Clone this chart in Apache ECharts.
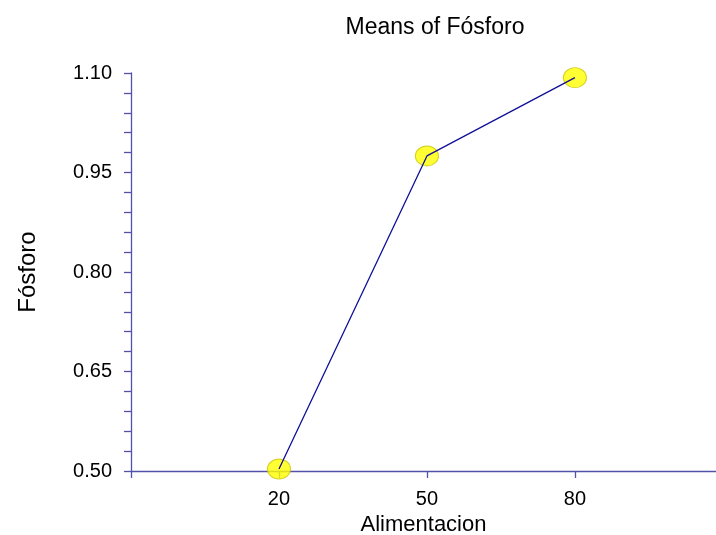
<!DOCTYPE html>
<html>
<head>
<meta charset="utf-8">
<script src="https://cdn.jsdelivr.net/npm/echarts@6/dist/echarts.min.js"></script>
<style>
  html, body { margin: 0; padding: 0; background: #fff; }
  #chart { width: 716px; height: 535px; }
</style>
</head>
<body>
<div id="chart"></div>
<script>
// Group means of Fósforo by Alimentacion level
const levels = [20, 50, 80];
const means = [0.503, 0.975, 1.093];

// Axis ticks
const yLabelTicks = [0.50, 0.65, 0.80, 0.95, 1.10];
const yMinorStep = 0.03;
const xLabelTicks = [20, 50, 80];

const yTicks = [];
for (let i = 0; i <= 20; i++) yTicks.push(+(0.5 + i * yMinorStep).toFixed(2));

const FONT = '"Liberation Sans", Arial, sans-serif';
const AXIS_COLOR = '#5252aa';

const points = levels.map((l, i) => [l, means[i]]);

const chart = echarts.init(document.getElementById('chart'), null, { renderer: 'canvas' });
chart.setOption({
  animation: false,
  backgroundColor: '#ffffff',
  title: {
    text: 'Means of Fósforo',
    left: 430,
    textAlign: 'center',
    top: 11,
    textStyle: { fontFamily: FONT, fontSize: 23, fontWeight: 'normal', color: '#000' }
  },
  grid: { left: 131, right: 0, top: 73, bottom: 64, containLabel: false, outerBoundsMode: 'none' },
  xAxis: {
    type: 'value',
    min: -10,
    max: 108.6,
    name: 'Alimentacion',
    nameLocation: 'middle',
    nameGap: 41,
    nameTextStyle: { fontFamily: FONT, fontSize: 22, color: '#000' },
    axisLine: { show: true, onZero: false, lineStyle: { color: AXIS_COLOR, width: 1.3 } },
    axisTick: { show: true, inside: false, length: 7, customValues: [-10].concat(xLabelTicks), lineStyle: { color: AXIS_COLOR, width: 1.3 } },
    axisLabel: { customValues: xLabelTicks, margin: 18, fontFamily: FONT, fontSize: 20, color: '#000' },
    splitLine: { show: false }
  },
  yAxis: {
    type: 'value',
    min: 0.5,
    max: 1.1,
    name: 'Fósforo',
    nameLocation: 'middle',
    nameGap: 91,
    nameRotate: 90,
    nameTextStyle: { fontFamily: FONT, fontSize: 24, color: '#000' },
    axisLine: { show: true, onZero: false, lineStyle: { color: AXIS_COLOR, width: 1.3 } },
    axisTick: { show: true, inside: false, length: 7, customValues: yTicks, lineStyle: { color: AXIS_COLOR, width: 1.3 } },
    axisLabel: {
      customValues: yLabelTicks,
      margin: 19,
      fontFamily: FONT,
      fontSize: 20,
      color: '#000',
      formatter: v => v.toFixed(2)
    },
    splitLine: { show: false }
  },
  series: [
    {
      // markers sit underneath the connecting line
      type: 'scatter',
      data: points,
      z: 2,
      symbol: 'circle',
      symbolSize: [23, 20],
      itemStyle: { color: '#ffff00', borderColor: '#c9c400', borderWidth: 1 }
    },
    {
      type: 'line',
      data: points,
      z: 3,
      showSymbol: false,
      symbol: 'none',
      lineStyle: { color: '#10109a', width: 1.3 }
    }
  ]
});
</script>
</body>
</html>
